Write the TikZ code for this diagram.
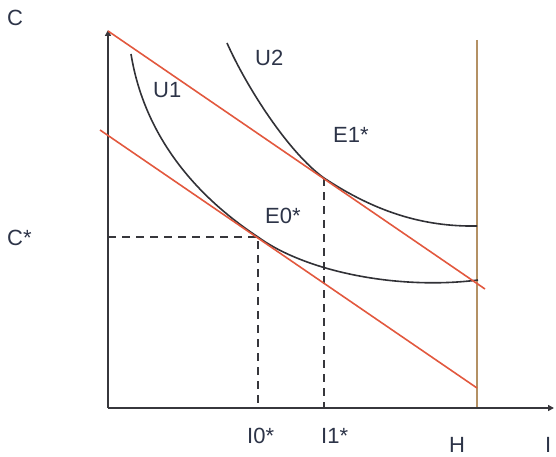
\documentclass[tikz,border=0pt]{standalone}
\usepackage{fontspec}
\setmainfont{Liberation Sans}
\usetikzlibrary{arrows.meta}
\definecolor{budget}{RGB}{226,88,62}
\definecolor{tanline}{RGB}{180,145,100}
\definecolor{axiscol}{RGB}{55,55,60}
\definecolor{txt}{RGB}{45,52,72}
\tikzset{
  axis/.style={draw=axiscol, line width=2pt, -{Triangle[length=6pt,width=6pt]}},
  budgetline/.style={draw=budget, line width=1.6pt},
  indiff/.style={draw=axiscol!90!black, line width=1.6pt},
  guide/.style={draw=axiscol, line width=1.8pt, dash pattern=on 8pt off 6pt},
  lbl/.style={text=txt, font=\fontsize{22}{26}\selectfont, inner sep=0pt, anchor=base west},
}
\begin{document}
\begin{tikzpicture}[x=1pt,y=-1pt]
\useasboundingbox (0,0) rectangle (556,457);
% coordinates
\coordinate (O) at (108,408);
\coordinate (Ytop) at (108,30);
\coordinate (Xend) at (554,408);
\coordinate (B1s) at (108,31);
\coordinate (B1e) at (485,289);
\coordinate (B0s) at (100,130);
\coordinate (B0e) at (477,388);
\coordinate (E0) at (258,237);
\coordinate (E1) at (324,178);
\coordinate (Cst) at (108,237);
\coordinate (I0) at (258,408);
\coordinate (I1) at (324,408);
\coordinate (Htop) at (477,40);
\coordinate (Hbot) at (477,408);
% tan vertical line
\draw[draw=tanline, line width=2.4pt] (Htop) -- (Hbot);
% axes
\draw[axis] (O) -- (Ytop);
\draw[axis] (O) -- (Xend);
% dashed guides
\draw[guide] (Cst) -- (E0) -- (I0);
\draw[guide] (E1) -- (I1);
% indifference curves
\draw[indiff] (131,54) .. controls (143,128) and (187,190) .. (E0)
  .. controls (307,272.5) and (400,290) .. (478,280);
\draw[indiff] (227,43) .. controls (247,88) and (289,153) .. (E1)
  .. controls (374,211) and (422,227) .. (477,226);
% budget lines
\draw[budgetline] (B1s) -- (B1e);
\draw[budgetline] (B0s) -- (B0e);
% labels
\node[lbl] (lC) at (7,26) {C};
\node[lbl] (lCs) at (7,245) {C*};
\node[lbl] (lI0) at (247,443) {I0*};
\node[lbl] (lI1) at (321,443) {I1*};
\node[lbl] (lH) at (449,452) {H};
\node[lbl] (lI) at (545,452) {I};
\node[lbl] (lE1) at (333,143) {E1*};
\node[lbl] (lE0) at (265,223) {E0*};
\node[lbl] (lU1) at (153,98) {U1};
\node[lbl] (lU2) at (255,66) {U2};
\end{tikzpicture}
\end{document}
